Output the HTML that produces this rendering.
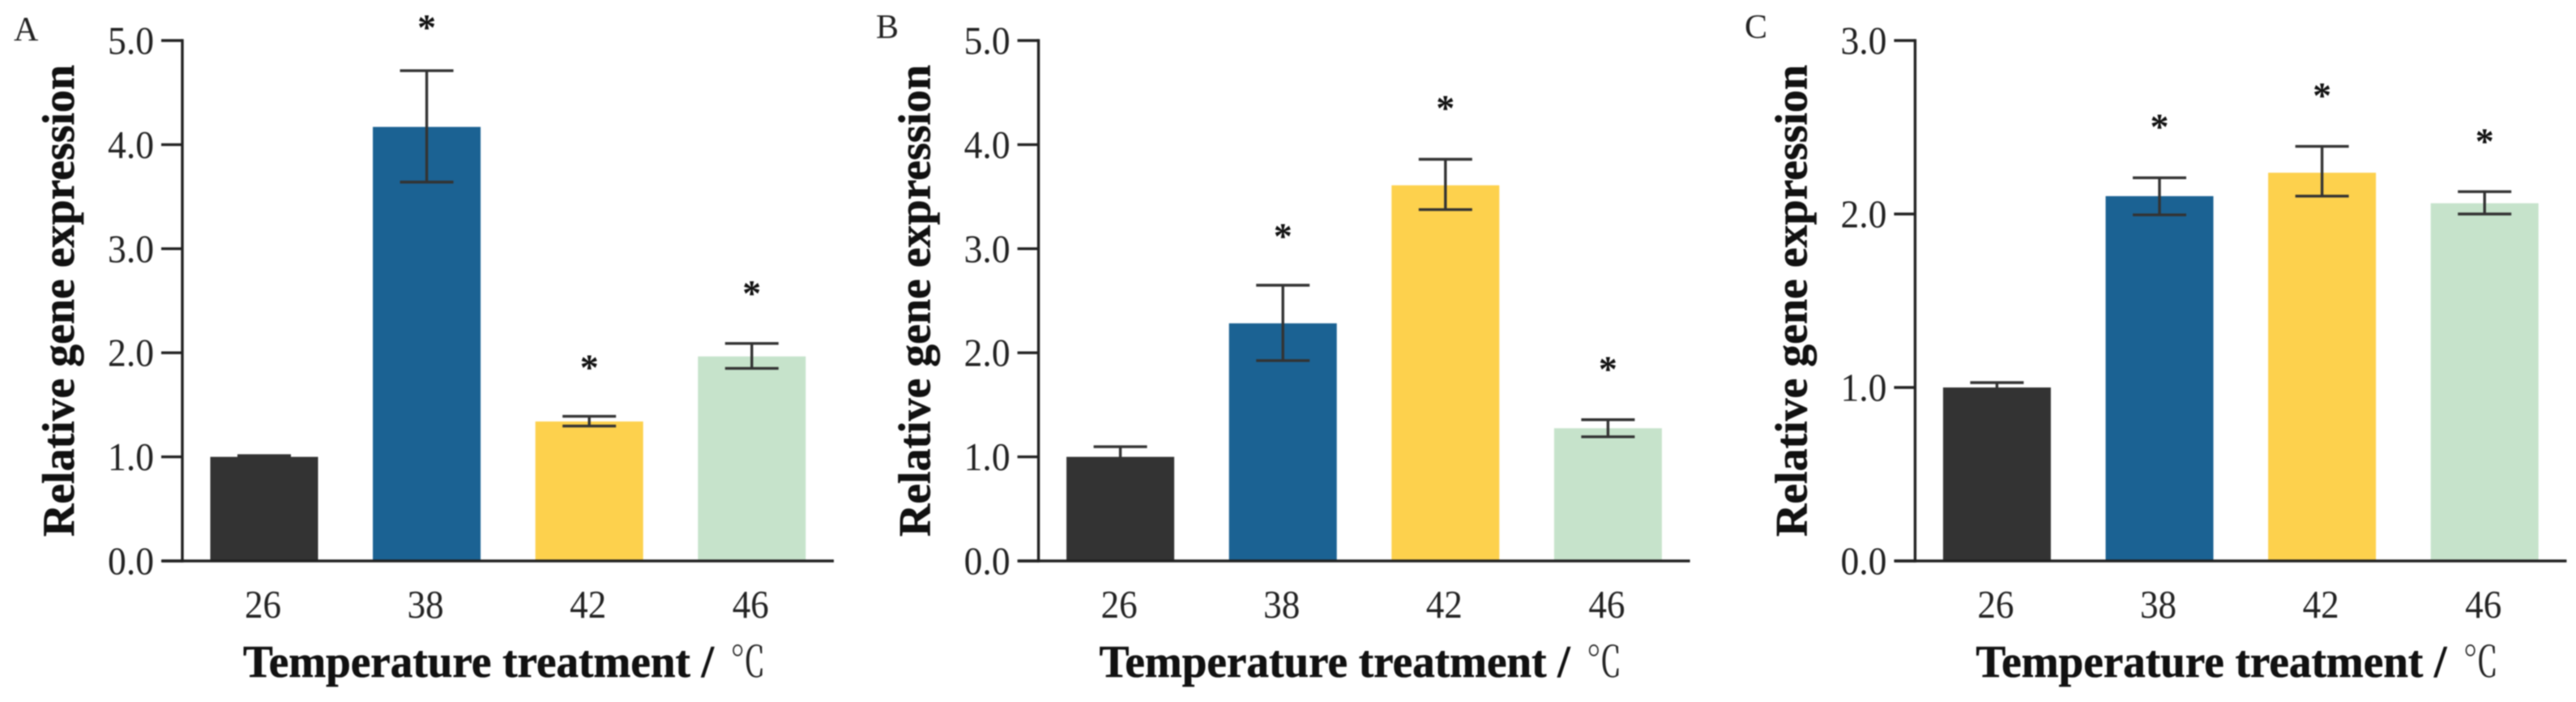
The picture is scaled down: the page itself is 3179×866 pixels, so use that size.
<!DOCTYPE html>
<html lang="en">
<head>
<meta charset="utf-8">
<title>Relative gene expression under temperature treatment</title>
<style>
  html, body { margin: 0; padding: 0; background: #ffffff; }
  body { width: 3179px; height: 866px; overflow: hidden; }
  svg { display: block; filter: blur(0.7px); }
</style>
</head>
<body>
<svg id="figure" xmlns="http://www.w3.org/2000/svg" width="3179" height="866" viewBox="0 0 3179 866"></svg>
<script>
const categories = ["26", "38", "42", "46"];

const ticksA = [0, 1, 2, 3, 4, 5];
const valuesA = [1.0, 4.17, 1.34, 1.965];
const upperA = [1.012, 4.71, 1.39, 2.09];
const lowerA = [0.99, 3.64, 1.296, 1.85];
const starsA = [null, 5.17, 1.905, 2.615];

const ticksB = [0, 1, 2, 3, 4, 5];
const valuesB = [1.0, 2.283, 3.609, 1.275];
const upperB = [1.098, 2.649, 3.859, 1.357];
const lowerB = [0.9, 1.925, 3.376, 1.193];
const starsB = [null, 3.165, 4.397, 1.89];

const ticksC = [0, 1, 2, 3];
const valuesC = [1.0, 2.103, 2.238, 2.062];
const upperC = [1.028, 2.209, 2.39, 2.129];
const lowerC = [0.97, 1.995, 2.103, 2.0];
const starsC = [null, 2.53, 2.711, 2.447];

const NS = "http://www.w3.org/2000/svg";
const SERIF = '"Liberation Serif", "Noto Serif CJK SC", serif';
const barColors = ["#333333", "#1b6293", "#fdd14d", "#c6e3cb"];
const INK = "#222222";
const figure = document.getElementById("figure");

function make(parent, tag, attrs, text) {
  const el = document.createElementNS(NS, tag);
  for (const key in attrs) el.setAttribute(key, attrs[key]);
  if (text !== undefined) el.textContent = text;
  parent.appendChild(el);
  return el;
}

function drawPanel(letter, letterX, letterY, axisX, ticks, values, upper, lower, stars) {
  const baseY = 692;
  const plotH = 642;
  const maxV = ticks[ticks.length - 1];
  const yScale = function (v) { return baseY - (v / maxV) * plotH; };
  const xScale = function (i) { return axisX + 101 + i * 200.6; };
  const barW = 133;
  const capW = 66;

  const panel = make(figure, "g", {});
  
  

  const label = make(panel, "text", { x: letterX, y: letterY, "font-family": SERIF, "font-size": 42, fill: "#222" }, letter);
  
  

  values.forEach(function (v, i) {
    const bar = make(panel, "rect", {
      x: xScale(i) - barW / 2, y: yScale(v), width: barW, height: baseY - yScale(v), fill: barColors[i]
    });
    
    

    const cx = xScale(i);
    const err = make(panel, "path", {
      d: "M" + (cx - capW / 2) + " " + yScale(upper[i]) + "H" + (cx + capW / 2) +
         "M" + cx + " " + yScale(upper[i]) + "V" + yScale(lower[i]) +
         "M" + (cx - capW / 2) + " " + yScale(lower[i]) + "H" + (cx + capW / 2),
      stroke: "#333333", "stroke-width": 3.4, fill: "none"
    });
    
    

    if (stars[i] !== null) {
      const star = make(panel, "text", {
        x: cx, y: yScale(stars[i]) + 21, "text-anchor": "middle",
        "font-family": SERIF, "font-size": 46, "font-weight": "bold", fill: "#111"
      }, "*");
      
      
    }

    const tickLabel = make(panel, "text", {
      transform: "translate(" + (cx - 1.5) + " 762) scale(0.92 1)", "text-anchor": "middle",
      "font-family": SERIF, "font-size": 49, fill: INK
    }, categories[i]);
    
    
  });

  const yAxis = make(panel, "line", { x1: axisX, x2: axisX, y1: yScale(maxV) - 1.7, y2: baseY + 1.7, stroke: INK, "stroke-width": 3.4 });
  
  

  const xAxis = make(panel, "line", { x1: axisX - 25, x2: axisX + 804, y1: baseY, y2: baseY, stroke: INK, "stroke-width": 3.4 });
  
  

  ticks.forEach(function (t) {
    const tick = make(panel, "line", { x1: axisX - 26, x2: axisX, y1: yScale(t), y2: yScale(t), stroke: INK, "stroke-width": 3.4 });
    
    

    const yLabel = make(panel, "text", {
      transform: "translate(" + (axisX - 35) + " " + (yScale(t) + 16.5) + ") scale(0.93 1)", "text-anchor": "end",
      "font-family": SERIF, "font-size": 49, fill: INK
    }, t.toFixed(1));
    
    
  });

  const yTitle = make(panel, "text", {
    transform: "translate(" + (axisX - 134) + " 662) rotate(-90)",
    "font-family": SERIF, "font-size": 56, "font-weight": "bold", fill: "#111",
    stroke: "#111", "stroke-width": 0.6,
    textLength: 582, lengthAdjust: "spacingAndGlyphs"
  }, "Relative gene expression");
  
  

  const xTitle = make(panel, "text", {
    x: axisX + 75, y: 835, "font-family": SERIF, "font-size": 56, "font-weight": "bold", fill: "#111",
    stroke: "#111", "stroke-width": 0.6,
    textLength: 581, lengthAdjust: "spacingAndGlyphs"
  }, "Temperature treatment /");
  
  

  const degree = make(panel, "text", {
    x: axisX + 676, y: 835, "font-family": SERIF, "font-size": 52, fill: "#222",
    textLength: 44, lengthAdjust: "spacingAndGlyphs"
  }, "℃");
  
  
}

drawPanel("A", 17, 50, 225, ticksA, valuesA, upperA, lowerA, starsA);
drawPanel("B", 1081, 47, 1281.6, ticksB, valuesB, upperB, lowerB, starsB);
drawPanel("C", 2153, 47, 2363.4, ticksC, valuesC, upperC, lowerC, starsC);
</script>
</body>
</html>
